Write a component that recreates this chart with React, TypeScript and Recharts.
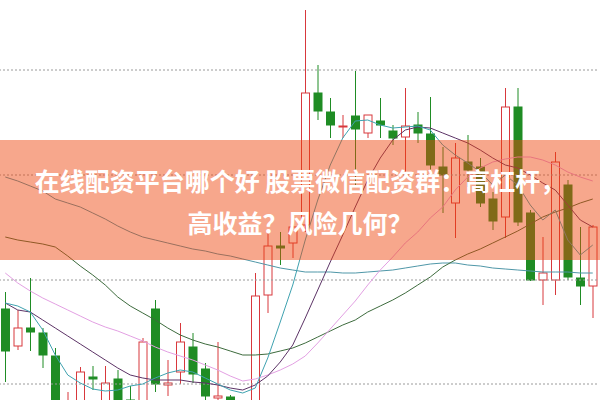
import { ComposedChart, Bar, Line, XAxis, YAxis, ReferenceLine } from "recharts"

// price levels (y axis hidden)
const OPEN = [10.91, 10.54, 10.72, 10.67, 10.44, 9.75, 9.8, 10.23, 9.85, 10.21, 10.0, 9.85, 10.91, 10.15, 10.28, 10.53, 10.31, 10.02, 10.03, 9.8, 9.9, 11.05, 11.54, 11.57, 11.75, 13.07, 12.88, 12.73, 12.84, 12.67, 12.79, 12.69, 12.63, 12.75, 12.66, 12.33, 11.97, 12.38, 12.33, 12.01, 11.83, 12.93, 11.87, 11.2, 11.2, 12.15, 11.22, 11.14]
const CLOSE = [10.49, 10.72, 10.68, 10.45, 9.9, 9.95, 10.28, 10.21, 10.17, 9.9, 9.8, 10.58, 10.16, 10.17, 10.58, 10.26, 10.04, 10.04, 9.9, 9.95, 11.04, 11.54, 11.52, 11.73, 13.07, 12.89, 12.75, 12.74, 12.71, 12.85, 12.75, 12.62, 12.74, 12.67, 12.35, 12.25, 12.42, 12.3, 11.97, 11.79, 12.93, 11.78, 11.2, 11.27, 12.38, 11.23, 11.14, 11.73]
const HIGH = [11.08, 10.9, 11.22, 10.72, 10.52, 10.08, 10.33, 10.34, 10.34, 10.3, 10.14, 10.62, 11.0, 10.4, 10.77, 10.67, 10.37, 10.58, 10.05, 9.97, 11.27, 11.67, 11.68, 11.8, 13.9, 13.35, 13.02, 12.85, 13.29, 12.85, 13.02, 12.75, 13.12, 12.88, 13.03, 12.53, 12.57, 12.65, 12.42, 12.08, 13.12, 13.12, 11.9, 11.63, 12.48, 12.2, 11.73, 11.75]
const LOW = [10.18, 10.5, 10.49, 10.32, 9.8, 9.7, 9.75, 10.1, 9.8, 9.85, 9.75, 9.8, 10.08, 10.04, 10.16, 10.17, 9.95, 9.9, 9.85, 9.75, 9.85, 10.87, 11.35, 11.42, 11.68, 12.8, 12.62, 12.62, 12.15, 12.62, 12.62, 12.55, 12.23, 12.57, 12.3, 11.87, 11.62, 12.13, 11.93, 11.7, 11.62, 11.74, 11.19, 10.95, 11.05, 11.2, 10.95, 10.82]

const MA5 = [10.97, 10.94, 10.88, 10.7, 10.45, 10.25, 10.17, 10.11, 10.09, 10.1, 10.14, 10.16, 10.22, 10.27, 10.3, 10.28, 10.22, 10.16, 10.1, 10.07, 10.12, 10.42, 10.78, 11.15, 11.6, 12.0, 12.35, 12.62, 12.79, 12.8, 12.75, 12.72, 12.73, 12.74, 12.7, 12.55, 12.45, 12.37, 12.28, 12.15, 12.25, 12.15, 11.95, 11.8, 11.9, 11.6, 11.45, 11.55]
const MA10 = [10.97, 10.9, 10.88, 10.8, 10.72, 10.64, 10.56, 10.48, 10.4, 10.32, 10.25, 10.22, 10.2, 10.2, 10.2, 10.18, 10.17, 10.15, 10.12, 10.1, 10.15, 10.24, 10.38, 10.55, 10.82, 11.1, 11.38, 11.65, 11.93, 12.2, 12.42, 12.6, 12.7, 12.73, 12.72, 12.67, 12.62, 12.57, 12.5, 12.42, 12.35, 12.32, 12.25, 12.17, 12.1, 11.95, 11.8, 11.73]
const MA20 = [11.27, 11.17, 11.09, 11.02, 10.96, 10.9, 10.84, 10.78, 10.73, 10.69, 10.64, 10.59, 10.53, 10.48, 10.44, 10.4, 10.35, 10.3, 10.24, 10.19, 10.21, 10.25, 10.3, 10.36, 10.44, 10.57, 10.71, 10.85, 10.99, 11.15, 11.3, 11.43, 11.57, 11.68, 11.82, 11.93, 12.1, 12.23, 12.32, 12.38, 12.41, 12.43, 12.43, 12.4, 12.35, 12.28, 12.23, 12.19]
const MA60 = [11.63, 11.6, 11.58, 11.56, 11.53, 11.44, 11.34, 11.25, 11.15, 11.03, 10.94, 10.87, 10.8, 10.72, 10.65, 10.6, 10.56, 10.53, 10.49, 10.45, 10.45, 10.46, 10.49, 10.52, 10.57, 10.63, 10.69, 10.75, 10.8, 10.88, 10.94, 11.0, 11.07, 11.15, 11.23, 11.33, 11.4, 11.46, 11.51, 11.57, 11.63, 11.69, 11.76, 11.83, 11.88, 11.92, 11.97, 12.01]
const MA120 = [12.23, 12.19, 12.14, 12.09, 12.01, 11.97, 11.93, 11.87, 11.81, 11.74, 11.68, 11.63, 11.6, 11.57, 11.54, 11.51, 11.49, 11.46, 11.44, 11.41, 11.38, 11.35, 11.32, 11.3, 11.28, 11.28, 11.28, 11.27, 11.27, 11.28, 11.29, 11.3, 11.32, 11.34, 11.36, 11.37, 11.37, 11.35, 11.34, 11.32, 11.31, 11.3, 11.29, 11.28, 11.28, 11.28, 11.27, 11.27]

const GRID_LEVELS = [13.3, 12.25, 11.2, 10.16]

const TITLE_LINES = ["在线配资平台哪个好 股票微信配资群：高杠杆，", "高收益？风险几何？"]

const RED = "#d8383c"
const GREEN = "#1f8c24"

const data = OPEN.map((o, i) => ({
  i,
  open: o,
  close: CLOSE[i],
  high: HIGH[i],
  low: LOW[i],
  range: [LOW[i], HIGH[i]],
  ma5: MA5[i],
  ma10: MA10[i],
  ma20: MA20[i],
  ma60: MA60[i],
  ma120: MA120[i],
}))

function Candle(props: any) {
  const { x, y, width, height, payload } = props
  if (!payload) return null
  const top = Math.min(y, y + height)
  const bottom = Math.max(y, y + height)
  const { open, close, high, low } = payload
  const k = high - low > 0 ? (bottom - top) / (high - low) : 0
  const py = (v: number) => top + (high - v) * k
  const cx = x + width / 2
  const up = close >= open
  const color = up ? RED : GREEN
  const bTop = py(Math.max(open, close))
  const bBot = py(Math.min(open, close))
  const bh = Math.max(bBot - bTop, 1)
  return (
    <g>
      <line x1={cx} x2={cx} y1={top} y2={bottom} stroke={color} strokeWidth={1} />
      <rect x={cx - 4} y={bTop} width={8} height={bh} fill={up ? "#fff" : color} stroke={color} strokeWidth={1} />
    </g>
  )
}

const LINES = [
  { key: "ma120", color: "#4f97a8" },
  { key: "ma60", color: "#3d6b3d" },
  { key: "ma20", color: "#e3a0e3" },
  { key: "ma10", color: "#5c3366" },
  { key: "ma5", color: "#3fa2b0" },
]

export default function App() {
  return (
    <div style={{ position: "absolute", left: 0, top: 0, width: 600, height: 400, overflow: "hidden", background: "#fff" }}>
      <div style={{ position: "absolute", left: -1, top: 0 }}>
        <ComposedChart width={600} height={400} data={data} margin={{ top: 0, right: 0, bottom: 0, left: 0 }} barCategoryGap={0}>
          <XAxis dataKey="i" type="category" hide />
          <YAxis hide domain={[10, 14]} allowDataOverflow />
          {GRID_LEVELS.map((v) => (
            <ReferenceLine key={v} y={v} stroke="#9a9a9a" strokeDasharray="2 2" />
          ))}
          <Bar dataKey="range" shape={<Candle />} isAnimationActive={false} />
          {LINES.map((l) => (
            <Line
              key={l.key}
              type="linear"
              dataKey={l.key}
              stroke={l.color}
              strokeWidth={1}
              dot={false}
              activeDot={false}
              isAnimationActive={false}
            />
          ))}
        </ComposedChart>
      </div>
      {/* translucent banner over the chart */}
      <div style={{ position: "absolute", left: 0, top: 140, width: 600, height: 120, background: "rgba(238, 68, 10, 0.47)" }} />
      {TITLE_LINES.map((t, k) => (
        <div
          key={k}
          style={{
            position: "absolute",
            left: 0,
            top: 160 + k * 42,
            width: 600,
            textAlign: "center",
            color: "#fff",
            fontFamily: "'Noto Sans CJK SC', 'Noto Sans', sans-serif",
            fontWeight: 700,
            fontSize: 25,
            lineHeight: "40px",
            whiteSpace: "nowrap",
          }}
        >
          {t}
        </div>
      ))}
    </div>
  )
}
